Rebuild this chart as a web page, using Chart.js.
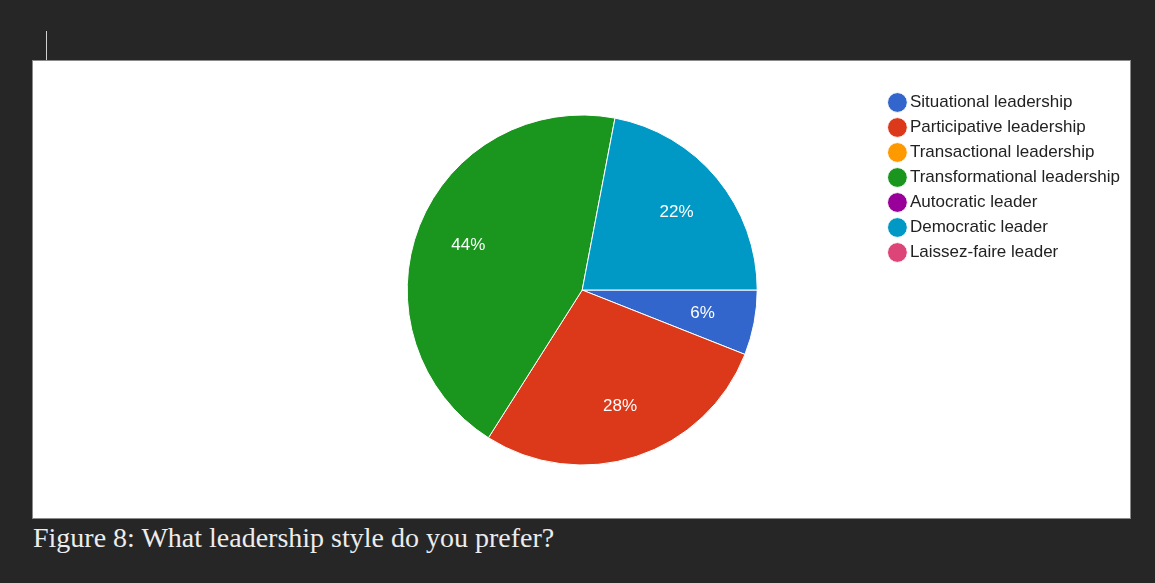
<!DOCTYPE html>
<html lang="en">
<head>
    <meta charset="UTF-8">
    <title>Figure 8</title>
    <script src="https://cdn.jsdelivr.net/npm/chart.js"></script>
    <style>
        html, body { margin: 0; padding: 0; }
        body {
            width: 1155px;
            height: 583px;
            background: #262626;
            position: relative;
            overflow: hidden;
        }
        .caret {
            position: absolute;
            left: 46px;
            top: 31px;
            width: 1px;
            height: 29px;
            background: #d0d0d0;
        }
        .panel {
            position: absolute;
            left: 32px;
            top: 60px;
            width: 1097px;
            height: 457px;
            background: #fff;
            border: 1px solid #8a8a8a;
        }
        .caption {
            position: absolute;
            left: 33px;
            top: 522px;
            color: #ececec;
            font-family: "Liberation Serif", "Times New Roman", serif;
            font-size: 28px;
        }
    </style>
</head>
<body>
    <div class="caret"></div>
    <div class="panel">
        <canvas id="pieChart"></canvas>
    </div>
    <div class="caption">Figure 8: What leadership style do you prefer?</div>

    <script>
        // reponses en pourcentage, une valeur par style
        var styles = [
            'Situational leadership',
            'Participative leadership',
            'Transactional leadership',
            'Transformational leadership',
            'Autocratic leader',
            'Democratic leader',
            'Laissez-faire leader'
        ];
        var shares = [6, 28, 0, 44, 0, 22, 0];
        var colors = ['#3366cc', '#dc381a', '#ff9900', '#1a961e', '#990099', '#0099c6', '#dd4477'];

        // pourcentages ecrits dans chaque part
        var pctLabels = {
            id: 'pctLabels',
            afterDatasetsDraw: function (chart) {
                var ctx = chart.ctx;
                var meta = chart.getDatasetMeta(0);
                ctx.save();
                ctx.fillStyle = '#fff';
                ctx.font = '17px "Liberation Sans", Arial, sans-serif';
                ctx.textAlign = 'center';
                ctx.textBaseline = 'middle';
                meta.data.forEach(function (arc, i) {
                    var v = shares[i];
                    if (!v) return;
                    var p = arc.getProps(['x', 'y', 'startAngle', 'endAngle', 'outerRadius'], true);
                    var mid = (p.startAngle + p.endAngle) / 2;
                    var r = p.outerRadius * 0.7;
                    ctx.fillText(v + '%', p.x + Math.cos(mid) * r, p.y + Math.sin(mid) * r);
                });
                ctx.restore();
            }
        };

        var config = {
            type: 'pie',
            data: {
                labels: styles,
                datasets: [{
                    data: shares,
                    backgroundColor: colors,
                    borderColor: '#fff',
                    borderWidth: 1
                }]
            },
            options: {
                responsive: true,
                maintainAspectRatio: false,
                animation: false,
                rotation: 90,
                radius: 175,
                layout: {
                    padding: { left: 246, right: 0, top: 25, bottom: 24 }
                },
                plugins: {
                    tooltip: { enabled: false },
                    legend: {
                        position: 'right',
                        align: 'start',
                        labels: {
                            usePointStyle: true,
                            pointStyle: 'circle',
                            boxWidth: 8,
                            boxHeight: 14,
                            padding: 8,
                            color: '#222',
                            font: { family: '"Liberation Sans", Arial, sans-serif', size: 17 }
                        }
                    }
                }
            },
            plugins: [pctLabels]
        };

        var ctx = document.getElementById('pieChart').getContext('2d');
        var myPieChart = new Chart(ctx, config);
    </script>
</body>
</html>
